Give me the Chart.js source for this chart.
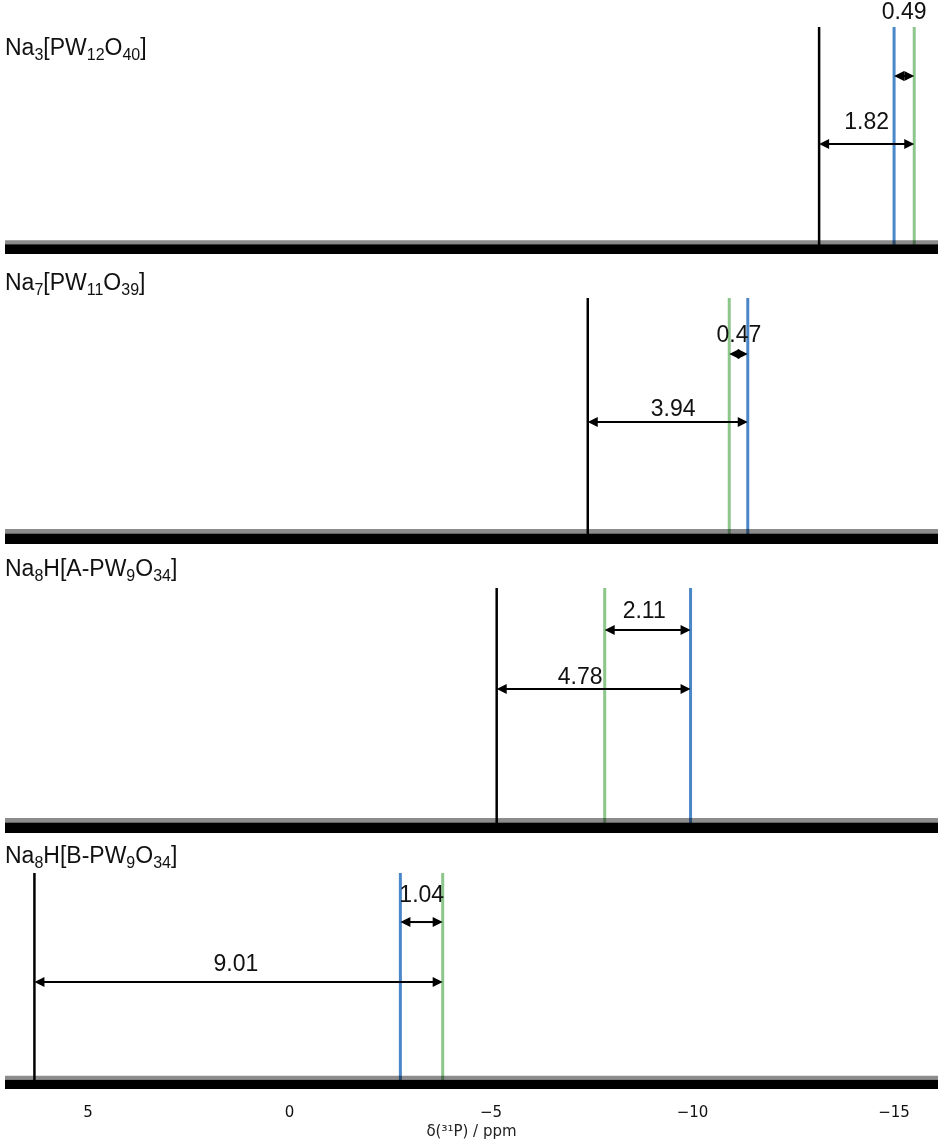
<!DOCTYPE html>
<html>
<head>
<meta charset="utf-8">
<script src="https://cdn.jsdelivr.net/npm/chart.js@4/dist/chart.umd.min.js"></script>
<style>
  body { margin: 0; background: #fff; }
  #wrap { position: relative; width: 947px; height: 1143px; }
  canvas { position: absolute; left: 0; }
</style>
</head>
<body>
<div id="wrap"></div>
<script>
// ppm range of the plot (axis is reversed: high ppm on the left)
const X_LEFT = 7.06;
const X_RIGHT = -16.09;
const xTicks = [5, 0, -5, -10, -15];

const compounds = [
  "Na_{3}[PW_{12}O_{40}]",
  "Na_{7}[PW_{11}O_{39}]",
  "Na_{8}H[A-PW_{9}O_{34}]",
  "Na_{8}H[B-PW_{9}O_{34}]"
];

// peak shifts in ppm, one per panel
const blackShift = [-13.14, -7.40, -5.14, 6.33];
const blueShift = [-15.00, -11.37, -9.95, -2.75];
const greenShift = [-15.50, -10.91, -7.82, -3.80];
const peakHeight = [1, 1, 1, 1];
const noiseLevel = 0.043;

// shift differences shown with arrows: [from, to] peaks
const gapValues = [[0.49, 1.82], [0.47, 3.94], [2.11, 4.78], [1.04, 9.01]];
const gapPeaks = [
  [["blue", "green"], ["black", "green"]],
  [["green", "blue"], ["black", "blue"]],
  [["green", "blue"], ["black", "blue"]],
  [["blue", "green"], ["black", "green"]]
];
const arrowLevel = [[0.784, 0.485], [0.772, 0.496], [0.829, 0.588], [0.773, 0.495]];
const gapLabelPos = [
  [[-15.25, 1.066], [-14.32, 0.581]],
  [[-11.15, 0.85], [-9.52, 0.549]],
  [[-8.80, 0.906], [-7.21, 0.637]],
  [[-3.28, 0.898], [1.33, 0.579]]
];
const compoundLabelLevel = [0.912, 1.065, 1.082, 1.083];

const colors = { black: "#000000", blue: "#4a87c8", green: "#8dc68b" };

// canvas layout of the four stacked panels
const panelTop = [0, 260, 548, 838];
const panelHeight = [260, 288, 290, 305];
const padTop = [27, 38, 40, 35];
const padBottom = [6, 4, 5, 0];

const shiftOf = (name, i) => ({ black: blackShift, blue: blueShift, green: greenShift })[name][i];

function drawFormula(ctx, text, x, yMid) {
  const parts = text.split(/_\{([^}]*)\}/);
  const base = yMid + 8;
  ctx.textBaseline = "alphabetic";
  ctx.textAlign = "left";
  parts.forEach((p, k) => {
    if (!p) return;
    if (k % 2 === 0) {
      ctx.font = '23px "Liberation Sans", Arial, sans-serif';
      ctx.fillText(p, x, base);
    } else {
      ctx.font = '16px "Liberation Sans", Arial, sans-serif';
      ctx.fillText(p, x, base + 5);
    }
    x += ctx.measureText(p).width;
  });
}

function drawArrow(ctx, xa, xb, y) {
  const l = Math.min(xa, xb), r = Math.max(xa, xb);
  const head = 10, half = 5;
  ctx.strokeStyle = "#000";
  ctx.fillStyle = "#000";
  ctx.lineWidth = 2;
  ctx.beginPath();
  ctx.moveTo(l + head - 1, y);
  ctx.lineTo(r - head + 1, y);
  ctx.stroke();
  ctx.beginPath();
  ctx.moveTo(l, y);
  ctx.lineTo(l + head, y - half);
  ctx.lineTo(l + head, y + half);
  ctx.closePath();
  ctx.fill();
  ctx.beginPath();
  ctx.moveTo(r, y);
  ctx.lineTo(r - head, y - half);
  ctx.lineTo(r - head, y + half);
  ctx.closePath();
  ctx.fill();
}

const nmrPlugin = {
  id: "nmr",
  afterDatasetsDraw(chart, args, opts) {
    const i = opts.panel;
    const ctx = chart.ctx;
    const xs = chart.scales.x, ys = chart.scales.y;
    ctx.save();
    ctx.fillStyle = "#111";
    drawFormula(ctx, compounds[i], 5, ys.getPixelForValue(compoundLabelLevel[i]));

    gapValues[i].forEach((v, k) => {
      const [a, b] = gapPeaks[i][k];
      const y = ys.getPixelForValue(arrowLevel[i][k]);
      drawArrow(ctx, xs.getPixelForValue(shiftOf(a, i)), xs.getPixelForValue(shiftOf(b, i)), y);
      const [lx, ly] = gapLabelPos[i][k];
      ctx.fillStyle = "#111";
      ctx.font = '23px "Liberation Sans", Arial, sans-serif';
      ctx.textAlign = "center";
      ctx.textBaseline = "middle";
      ctx.fillText(v.toFixed(2), xs.getPixelForValue(lx), ys.getPixelForValue(ly) + 1);
    });
    ctx.restore();
  }
};

const wrap = document.getElementById("wrap");

for (let i = 0; i < 4; i++) {
  const canvas = document.createElement("canvas");
  canvas.width = 947;
  canvas.height = panelHeight[i];
  canvas.style.top = panelTop[i] + "px";
  wrap.appendChild(canvas);

  const last = i === 3;
  const peak = (shift, color, width) => ({
    data: [{ x: shift, y: 0 }, { x: shift, y: peakHeight[i] }],
    borderColor: color,
    borderWidth: width,
    pointRadius: 0,
    fill: false
  });

  new Chart(canvas.getContext("2d"), {
    type: "line",
    data: {
      datasets: [
        {
          data: [{ x: X_LEFT, y: noiseLevel }, { x: X_RIGHT, y: noiseLevel }],
          borderWidth: 0,
          pointRadius: 0,
          backgroundColor: "#000",
          fill: "origin"
        },
        {
          data: [{ x: X_LEFT, y: noiseLevel + 0.018 }, { x: X_RIGHT, y: noiseLevel + 0.018 }],
          borderWidth: 0,
          pointRadius: 0,
          backgroundColor: "rgba(0,0,0,0.45)",
          fill: "-1"
        },
        peak(blackShift[i], colors.black, 2.5),
        peak(blueShift[i], colors.blue, 3),
        peak(greenShift[i], colors.green, 3)
      ]
    },
    options: {
      responsive: false,
      animation: false,
      layout: { padding: { left: 5, right: 9, top: padTop[i], bottom: padBottom[i] } },
      plugins: {
        legend: { display: false },
        tooltip: { enabled: false },
        nmr: { panel: i }
      },
      scales: {
        x: {
          type: "linear",
          reverse: true,
          min: X_RIGHT,
          max: X_LEFT,
          display: last,
          grid: { display: false, drawTicks: false },
          border: { display: false },
          afterBuildTicks: (scale) => { scale.ticks = xTicks.map(v => ({ value: v })); },
          afterFit: (scale) => { if (last) scale.height = 54; },
          ticks: {
            padding: 15,
            color: "#111",
            font: { family: '"DejaVu Sans"', size: 15 },
            callback: (v) => (v < 0 ? "\u2212" + Math.abs(v) : String(v))
          },
          title: {
            display: true,
            text: "\u03b4(\u00b3\u00b9P) / ppm",
            color: "#222",
            font: { family: '"DejaVu Sans"', size: 15 },
            padding: { top: 0, bottom: 2 }
          }
        },
        y: { min: 0, max: 1, display: false }
      }
    },
    plugins: [nmrPlugin]
  });
}
</script>
</body>
</html>
